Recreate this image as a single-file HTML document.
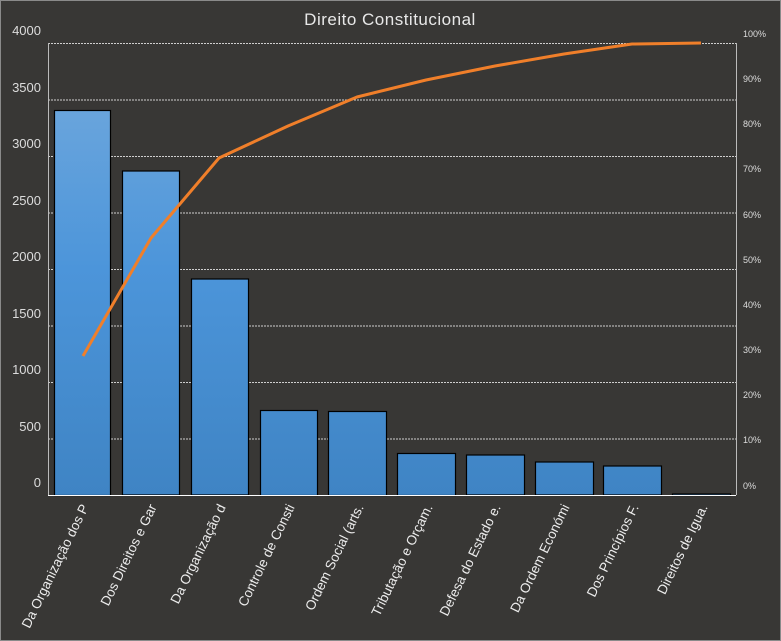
<!DOCTYPE html>
<html><head><meta charset="utf-8"><style>
html,body{margin:0;padding:0;background:#383735;}
svg{display:block;font-family:"Liberation Sans","DejaVu Sans",sans-serif;}
</style></head><body>
<svg width="781" height="641" viewBox="0 0 781 641">
<defs>
<linearGradient id="g" gradientUnits="userSpaceOnUse" x1="0" y1="43" x2="0" y2="495">
<stop offset="0" stop-color="#75abdd"/><stop offset="0.5" stop-color="#4c95da"/><stop offset="1" stop-color="#3f84c4"/>
</linearGradient>
</defs>
<rect x="0.5" y="0.5" width="780" height="640" fill="#383735" stroke="#8a8a8a"/>
<text x="390" y="25" fill="#e8e8e8" font-size="17" text-anchor="middle" letter-spacing="0.5">Direito Constitucional</text>
<g stroke="#cfcfcf" stroke-width="1" stroke-dasharray="2,1" fill="none">
<line x1="48" y1="43.5" x2="736" y2="43.5"/>
<line x1="48" y1="100" x2="736" y2="100"/>
<line x1="48" y1="156.5" x2="736" y2="156.5"/>
<line x1="48" y1="213" x2="736" y2="213"/>
<line x1="48" y1="269.5" x2="736" y2="269.5"/>
<line x1="48" y1="326" x2="736" y2="326"/>
<line x1="48" y1="382.5" x2="736" y2="382.5"/>
<line x1="48" y1="439" x2="736" y2="439"/>
</g>
<line x1="48.5" y1="43" x2="48.5" y2="495" stroke="#bbb"/>
<line x1="736.5" y1="43" x2="736.5" y2="495" stroke="#bbb"/>
<g fill="#dcdcdc" font-size="13" text-anchor="end">
<text x="41" y="35">4000</text><text x="41" y="92">3500</text><text x="41" y="148">3000</text>
<text x="41" y="205">2500</text><text x="41" y="261">2000</text><text x="41" y="318">1500</text>
<text x="41" y="374">1000</text><text x="41" y="431">500</text><text x="41" y="487">0</text>
</g>
<g fill="#dcdcdc" font-size="9" text-anchor="start">
<text x="743" y="37">100%</text><text x="743" y="82">90%</text><text x="743" y="127">80%</text>
<text x="743" y="172">70%</text><text x="743" y="218">60%</text><text x="743" y="263">50%</text>
<text x="743" y="308">40%</text><text x="743" y="353">30%</text><text x="743" y="398">20%</text>
<text x="743" y="443">10%</text><text x="743" y="489">0%</text>
</g>
<g fill="url(#g)" stroke="#000" stroke-width="1.2">
<rect x="54.5" y="110.5" width="56" height="385"/>
<rect x="122.5" y="171" width="57" height="324"/>
<rect x="191.5" y="279" width="57" height="216"/>
<rect x="260.5" y="410.5" width="57" height="85"/>
<rect x="328.5" y="411.5" width="58" height="84"/>
<rect x="397.5" y="453.5" width="58" height="42"/>
<rect x="466.5" y="455" width="58" height="40"/>
<rect x="535.5" y="462" width="58" height="33"/>
<rect x="603.5" y="466" width="58" height="29"/>
<rect x="672.5" y="494" width="58" height="1.5"/>
</g>
<line x1="48" y1="495.5" x2="736" y2="495.5" stroke="#ffffff" stroke-width="1"/>
<polyline points="83,356 151,238 219,158 288,126 357,97 426,80 495,66 564,54 632,44 701,43" fill="none" stroke="#f07f2a" stroke-width="3" stroke-linejoin="round"/>
<g fill="#ececec" font-size="13.5">
<text transform="translate(89,507) rotate(-64)" text-anchor="end">Da Organização dos P</text>
<text transform="translate(157,507) rotate(-64)" text-anchor="end">Dos Direitos e Gar</text>
<text transform="translate(226,507) rotate(-64)" text-anchor="end">Da Organização d</text>
<text transform="translate(295,507) rotate(-64)" text-anchor="end">Controle de Consti</text>
<text transform="translate(364,507) rotate(-64)" text-anchor="end">Ordem Social (arts.</text>
<text transform="translate(433,507) rotate(-64)" text-anchor="end">Tributação e Orçam.</text>
<text transform="translate(501,507) rotate(-64)" text-anchor="end">Defesa do Estado e.</text>
<text transform="translate(570,507) rotate(-64)" text-anchor="end">Da Ordem Económi</text>
<text transform="translate(639,507) rotate(-64)" text-anchor="end">Dos Princípios F.</text>
<text transform="translate(708,507) rotate(-64)" text-anchor="end">Direitos de Igua.</text>
</g>
</svg>
</body></html>
